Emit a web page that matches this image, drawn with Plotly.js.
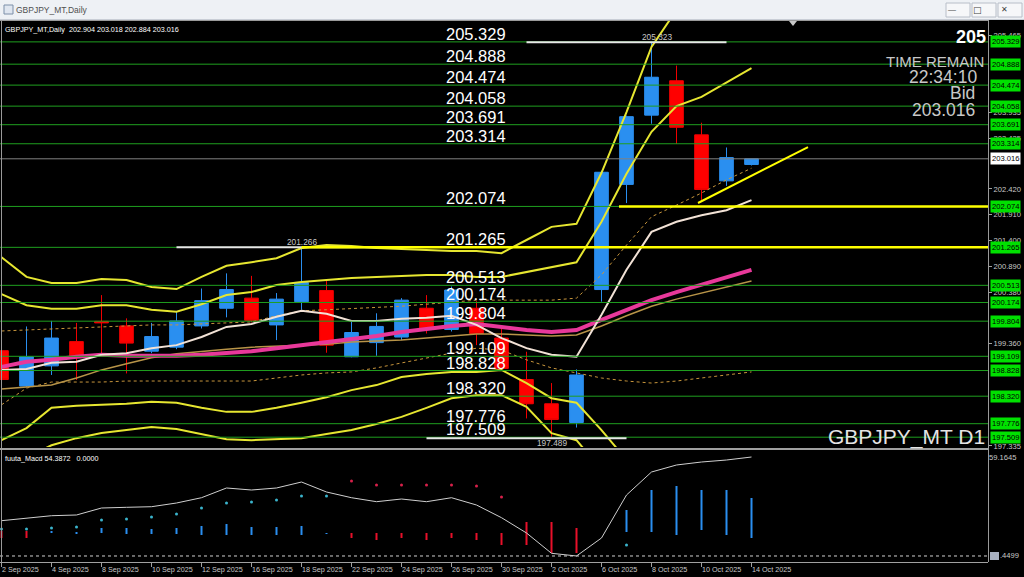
<!DOCTYPE html>
<html><head><meta charset="utf-8">
<script src="https://cdn.plot.ly/plotly-3.0.1.min.js"></script>
<style>html,body{margin:0;padding:0;background:#000;overflow:hidden}#chart{width:1024px;height:577px}</style>
</head><body><div id="chart"></div>
<script>
// ---------- data ----------
const days = ['2025-09-02','2025-09-03','2025-09-04','2025-09-05','2025-09-08','2025-09-09','2025-09-10','2025-09-11','2025-09-12','2025-09-15','2025-09-16','2025-09-17','2025-09-18','2025-09-19','2025-09-22','2025-09-23','2025-09-24','2025-09-25','2025-09-26','2025-09-29','2025-09-30','2025-10-01','2025-10-02','2025-10-03','2025-10-06','2025-10-07','2025-10-08','2025-10-09','2025-10-10','2025-10-13','2025-10-14'];
const openP  = [199.22,198.52,198.92,199.40,199.80,199.71,199.21,199.29,199.71,200.06,200.26,199.73,200.19,200.41,199.10,199.38,199.49,200.06,199.64,200.06,199.47,198.65,198.17,197.80,200.43,202.51,203.88,204.56,203.49,202.58,202.904];
const highP  = [199.35,199.70,199.81,199.77,200.32,199.86,199.77,199.99,200.45,200.75,200.70,200.36,201.266,200.62,199.79,199.96,200.26,200.32,200.49,200.20,199.66,199.20,198.58,198.85,202.78,203.87,205.323,204.86,203.73,203.24,203.018];
const lowP   = [198.55,198.50,198.74,198.64,199.17,198.77,199.17,199.25,199.66,199.88,199.78,199.43,200.03,199.18,199.09,199.12,199.43,199.56,199.60,199.33,198.85,197.88,197.489,197.70,200.19,202.14,203.71,203.31,202.20,202.48,202.884];
const closeP = [198.65,199.10,199.47,199.12,199.77,199.37,199.50,199.81,200.21,200.43,199.82,200.24,200.57,199.33,199.58,199.70,200.22,199.66,200.42,199.56,198.87,198.17,197.86,198.74,202.75,203.85,204.63,203.64,202.41,203.04,203.016];

const bandUp2 = [201.07,200.68,200.56,200.56,200.64,200.62,200.48,200.44,200.68,200.90,200.97,201.05,201.25,201.31,201.29,201.25,201.23,201.21,201.19,201.19,201.15,201.41,201.67,201.73,202.74,203.94,205.23,205.96];
const bandUp1 = [200.34,200.12,200.05,200.05,200.12,200.12,200.03,199.99,200.14,200.32,200.38,200.52,200.58,200.62,200.66,200.68,200.70,200.72,200.72,200.68,200.68,200.78,200.88,200.97,201.77,202.72,203.55,204.06,204.24,204.52,204.81];
const bandDn1 = [197.45,197.69,198.09,198.13,198.15,198.17,198.21,198.19,198.09,198.01,198.01,198.09,198.19,198.30,198.44,198.54,198.70,198.76,198.80,198.80,198.84,198.58,198.28,198.19,197.65,197.06];
const bandDn2 = [196.86,197.10,197.35,197.49,197.59,197.65,197.71,197.67,197.57,197.47,197.45,197.47,197.49,197.57,197.65,197.77,197.91,198.09,198.28,198.34,198.34,198.11,197.59,197.45,196.86];
const maWhite = [198.84,198.86,198.98,199.00,199.14,199.17,199.27,199.33,199.49,199.69,199.75,199.89,200.01,199.95,199.81,199.81,199.85,199.87,199.91,199.73,199.47,199.27,199.14,199.10,199.93,200.82,201.57,201.77,201.90,202.00,202.20];
const maPink  = [198.90,199.00,199.04,199.10,199.14,199.12,199.12,199.12,199.14,199.17,199.21,199.27,199.33,199.39,199.45,199.51,199.59,199.65,199.71,199.75,199.69,199.63,199.59,199.63,199.83,200.03,200.22,200.38,200.52,200.68,200.82];
const maTan   = [198.46,198.50,198.54,198.68,198.84,198.96,199.08,199.16,199.21,199.25,199.29,199.31,199.33,199.35,199.39,199.41,199.43,199.47,199.51,199.55,199.55,199.53,199.51,199.53,199.71,199.91,200.10,200.24,200.36,200.48,200.60];
const dotUpper = [199.61,199.63,199.65,199.67,199.69,199.71,199.73,199.73,199.75,199.77,199.79,199.91,200.01,200.03,200.05,200.07,200.10,200.14,200.18,200.22,200.22,200.22,200.22,200.26,200.72,201.31,201.87,202.10,202.34,202.60,202.83];
const dotLower = [198.15,198.48,198.60,198.60,198.60,198.62,198.62,198.62,198.62,198.62,198.62,198.68,198.74,198.78,198.80,198.88,198.98,199.08,199.17,199.27,199.23,199.04,198.88,198.78,198.68,198.62,198.58,198.62,198.68,198.74,198.80];

const levels = [205.329,204.888,204.474,204.058,203.691,203.314,202.074,201.265,200.513,200.174,199.804,199.109,198.828,198.320,197.776,197.509];
const priceTicks = [205.465,203.935,203.425,202.420,201.910,201.400,200.890,200.380,199.360,197.335];
const lastPrice = 203.016;
const periodHigh = 205.323, periodLow = 197.489, swingHigh = 201.266;

const macdLine = [20.80,22.13,23.81,24.24,28.45,28.87,29.23,31.46,34.65,40.50,39.29,40.50,44.11,38.09,34.65,32.25,33.87,32.25,34.65,30.26,22.61,13.40,1.17,-0.45,10.39,36.28,50.13,54.35,56.15,57.36,59.16];
const histUpHi = [null,null,14.60,14.00,16.41,16.41,15.80,16.41,17.61,18.81,17.01,17.01,17.61,13.40,null,null,null,null,null,null,null,null,null,null,null,27.25,39.29,41.70,39.29,39.29,34.47];
const histUpLo = [null,null,13.40,12.79,13.40,12.79,12.79,12.79,12.19,12.19,12.19,12.19,12.19,12.79,null,null,null,null,null,null,null,null,null,null,null,14.00,14.00,12.19,15.20,12.19,10.39];
const histDnHi = [14.60,14.60,null,null,null,null,null,null,null,null,null,null,null,null,13.40,13.40,13.40,13.40,13.40,13.40,13.40,20.02,20.02,16.41,null,null,null,null,null,null,null];
const histDnLo = [10.39,10.39,null,null,null,null,null,null,null,null,null,null,null,null,10.39,9.18,10.39,9.18,10.39,9.18,6.17,6.17,1.35,1.35,null,null,null,null,null,null,null];
const dotUp = [15.80,15.80,16.41,17.01,21.23,21.83,23.03,24.84,28.45,31.46,32.07,33.27,35.68,35.68,null,null,null,null,null,null,null,null,null,null,null,6.17,null,null,null,null,null];
const dotDn = [null,null,null,null,null,null,null,null,null,null,null,null,null,null,44.71,42.30,42.30,42.30,42.30,41.70,35.08,null,null,null,null,null,null,null,null,null,null];
const macdMax = 59.1645, macdMin = -0.4499;

const tickDays = ['2025-09-02','2025-09-04','2025-09-08','2025-09-10','2025-09-12','2025-09-16','2025-09-18','2025-09-22','2025-09-24','2025-09-26','2025-09-30','2025-10-02','2025-10-06','2025-10-08','2025-10-10','2025-10-14'];
const tickLabels = ['2 Sep 2025','4 Sep 2025','8 Sep 2025','10 Sep 2025','12 Sep 2025','16 Sep 2025','18 Sep 2025','22 Sep 2025','24 Sep 2025','26 Sep 2025','30 Sep 2025','2 Oct 2025','6 Oct 2025','8 Oct 2025','10 Oct 2025','14 Oct 2025'];

// ---------- helpers ----------
const W = 1024, H = 577;
const px = x => x / W, py = y => 1 - y / H;
const FONT = 'Liberation Sans, Arial, sans-serif';
const sub = a => days.slice(0, a.length);

// ---------- traces ----------
const traces = [];
traces.push({type:'candlestick', x: days, open: openP, high: highP, low: lowP, close: closeP,
  xaxis:'x', yaxis:'y', hoverinfo:'skip', showlegend:false,
  increasing:{line:{color:'#2a8ff0', width:1}, fillcolor:'#2a8ff0'},
  decreasing:{line:{color:'#f00000', width:1}, fillcolor:'#ff0000'}});
const line = (y, color, width, dash) => ({type:'scatter', mode:'lines', x: sub(y), y: y, xaxis:'x', yaxis:'y',
  line:{color:color, width:width, dash:dash||'solid'}, hoverinfo:'skip', showlegend:false});
traces.push(line(dotUpper, '#c8963c', 1, 'dot'));
traces.push(line(dotLower, '#c8963c', 1, 'dot'));
traces.push(line(maTan, '#b89448', 1.5));
traces.push(line(bandUp2, '#e6e630', 2));
traces.push(line(bandUp1, '#e6e630', 2));
traces.push(line(bandDn1, '#e6e630', 2));
traces.push(line(bandDn2, '#e6e630', 2));
traces.push(line(maPink, '#e8389a', 4));
traces.push(line(maWhite, '#f2e2d6', 2));

// MACD panel
const diff = (hi, lo) => hi.map((v, i) => v === null ? null : +(v - lo[i]).toFixed(3));
traces.push({type:'bar', x: days, y: diff(histUpHi, histUpLo), base: histUpLo, width: 0.08, xaxis:'x2', yaxis:'y2',
  marker:{color:'#2a8ff0'}, hoverinfo:'skip', showlegend:false});
traces.push({type:'bar', x: days, y: diff(histDnHi, histDnLo), base: histDnLo, width: 0.08, xaxis:'x2', yaxis:'y2',
  marker:{color:'#e8102a'}, hoverinfo:'skip', showlegend:false});
traces.push({type:'scatter', mode:'markers', x: days, y: dotUp, xaxis:'x2', yaxis:'y2',
  marker:{color:'#3ab4cc', size:3}, hoverinfo:'skip', showlegend:false});
traces.push({type:'scatter', mode:'markers', x: days, y: dotDn, xaxis:'x2', yaxis:'y2',
  marker:{color:'#d8204a', size:3}, hoverinfo:'skip', showlegend:false});
traces.push({type:'scatter', mode:'lines', x: days, y: macdLine, xaxis:'x2', yaxis:'y2',
  line:{color:'#cfcfcf', width:1}, hoverinfo:'skip', showlegend:false});

// ---------- shapes ----------
const shapes = [];
levels.forEach(lv => shapes.push({type:'line', xref:'x domain', x0:0, x1:1, yref:'y', y0:lv, y1:lv, line:{color:'#1f9f1f', width:1}}));
shapes.push({type:'line', xref:'x domain', x0:0, x1:1, yref:'y', y0:lastPrice, y1:lastPrice, line:{color:'#808080', width:1}});
shapes.push({type:'line', xref:'x', x0:21, x1:29, yref:'y', y0:periodHigh, y1:periodHigh, line:{color:'#e6e6e6', width:2}});
shapes.push({type:'line', xref:'x', x0:7, x1:15, yref:'y', y0:swingHigh, y1:swingHigh, line:{color:'#e6e6e6', width:2}});
shapes.push({type:'line', xref:'x', x0:17, x1:25, yref:'y', y0:periodLow, y1:periodLow, line:{color:'#e6e6e6', width:2}});
shapes.push({type:'line', xref:'x', x0:12, x1:39.46, yref:'y', y0:levels[7], y1:levels[7], line:{color:'#ffff00', width:2.5}});
shapes.push({type:'line', xref:'x', x0:24.7, x1:39.46, yref:'y', y0:levels[6], y1:levels[6], line:{color:'#ffff00', width:2.5}});
shapes.push({type:'line', xref:'x', x0:27.86, x1:32.26, yref:'y', y0:202.142, y1:203.249, line:{color:'#ffff00', width:2}});
shapes.push({type:'line', xref:'x2 domain', x0:0, x1:1, yref:'y2', y0:macdMin, y1:macdMin, line:{color:'#d0d0d0', width:1, dash:'dot'}});
shapes.push({type:'rect', xref:'paper', yref:'paper', x0:0, x1:1, y0:py(20), y1:1, fillcolor:'#eef1f5', line:{width:0}});
shapes.push({type:'line', xref:'paper', yref:'paper', x0:0, x1:1, y0:py(19.5), y1:py(19.5), line:{color:'#c9ced6', width:1}});
shapes.push({type:'rect', xref:'paper', yref:'paper', x0:px(4), x1:px(13), y0:py(14), y1:py(5), fillcolor:'#dfe6f0', line:{color:'#7d8fa8', width:1}});
[[946,970],[972,996],[998,1022]].forEach(b => shapes.push({type:'rect', xref:'paper', yref:'paper', x0:px(b[0]), x1:px(b[1]), y0:py(17), y1:py(3), fillcolor:'#f6f7f9', line:{color:'#b8bec8', width:1}}));
shapes.push({type:'line', xref:'paper', yref:'paper', x0:px(1.5), x1:px(1.5), y0:py(562), y1:py(20), line:{color:'#9a9a9a', width:1}});
shapes.push({type:'line', xref:'paper', yref:'paper', x0:0, x1:px(988.5), y0:py(20.5), y1:py(20.5), line:{color:'#9a9a9a', width:1}});
shapes.push({type:'line', xref:'paper', yref:'paper', x0:px(988.5), x1:px(988.5), y0:py(562), y1:py(20), line:{color:'#9a9a9a', width:1}});
shapes.push({type:'line', xref:'paper', yref:'paper', x0:0, x1:px(988.5), y0:py(449), y1:py(449), line:{color:'#a0a0a0', width:2}});
shapes.push({type:'path', xref:'paper', yref:'paper', path:`M ${px(789)} ${py(21)} L ${px(797)} ${py(21)} L ${px(793)} ${py(26)} Z`, fillcolor:'#c8c8c8', line:{width:0}});
shapes.push({type:'rect', xref:'paper', yref:'paper', x0:px(990), x1:px(999), y0:py(560), y1:py(552), fillcolor:'#a8b0c0', line:{width:0}});

// ---------- annotations ----------
const ann = [];
const A = o => ann.push(Object.assign({showarrow:false}, o));
levels.forEach(lv => {
  A({xref:'paper', x:px(444), xanchor:'left', yref:'y', y:lv, yanchor:'bottom', yshift:-3,
     text: lv.toFixed(3), font:{family:FONT, size:16.5, color:'#ffffff'}});
  A({xref:'paper', x:px(990), xanchor:'left', yref:'y', y:lv, yanchor:'middle',
     text: lv.toFixed(3), font:{family:FONT, size:7.6, color:'#000000'}, bgcolor:'#00e000', borderpad:1});
});
A({xref:'paper', x:px(990), xanchor:'left', yref:'y', y:lastPrice, yanchor:'middle',
   text: lastPrice.toFixed(3), font:{family:FONT, size:7.6, color:'#000000'}, bgcolor:'#ffffff', borderpad:1});
A({xref:'x', x:26.2, yref:'y', y:periodHigh, yanchor:'bottom', yshift:-2, text: periodHigh.toFixed(3), font:{family:FONT, size:8.3, color:'#c8c8c8'}});
A({xref:'x', x:12, yref:'y', y:swingHigh, yanchor:'bottom', yshift:-2, text: swingHigh.toFixed(3), font:{family:FONT, size:8.3, color:'#c8c8c8'}});
A({xref:'x', x:22, yref:'y', y:periodLow, yanchor:'top', yshift:2, text: periodLow.toFixed(3), font:{family:FONT, size:8.3, color:'#c8c8c8'}});
A({xref:'paper', x:px(988), xanchor:'right', yref:'paper', y:py(37), yanchor:'middle', text:'<b>205</b>', font:{family:FONT, size:18, color:'#ffffff'}});
A({xref:'paper', x:px(986), xanchor:'right', yref:'paper', y:py(61), yanchor:'middle', text:'TIME REMAIN', font:{family:FONT, size:15, color:'#c8c8c8'}});
A({xref:'paper', x:px(979), xanchor:'right', yref:'paper', y:py(77), yanchor:'middle', text:'22:34:10', font:{family:FONT, size:17.5, color:'#c8c8c8'}});
A({xref:'paper', x:px(977), xanchor:'right', yref:'paper', y:py(93), yanchor:'middle', text:'Bid', font:{family:FONT, size:17.5, color:'#c8c8c8'}});
A({xref:'paper', x:px(977), xanchor:'right', yref:'paper', y:py(110), yanchor:'middle', text: lastPrice.toFixed(3), font:{family:FONT, size:17.5, color:'#c8c8c8'}});
A({xref:'paper', x:px(987), xanchor:'right', yref:'paper', y:py(437), yanchor:'middle', text:'GBPJPY_MT D1', font:{family:FONT, size:21, color:'#e4e4e4'}});
A({xref:'paper', x:px(3), xanchor:'left', yref:'paper', y:py(29), yanchor:'middle',
   text:'GBPJPY_MT,Daily  ' + [openP[30], highP[30], lowP[30], closeP[30]].map(v => v.toFixed(3)).join(' '),
   font:{family:FONT, size:7.2, color:'#ffffff'}});
A({xref:'paper', x:px(3), xanchor:'left', yref:'paper', y:py(458), yanchor:'middle',
   text:'fuuta_Macd 54.3872   0.0000', font:{family:FONT, size:7.2, color:'#ffffff'}});
A({xref:'paper', x:px(998), xanchor:'left', yref:'y2', y:macdMin, yanchor:'middle', text:'.4499', font:{family:FONT, size:7.6, color:'#c8c8c8'}});
A({xref:'paper', x:px(14), xanchor:'left', yref:'paper', y:py(10), yanchor:'middle', text:'GBPJPY_MT,Daily', font:{family:FONT, size:8.5, color:'#505050'}});
A({xref:'paper', x:px(958), yref:'paper', y:py(10), yanchor:'middle', text:'&#8212;', font:{family:FONT, size:8, color:'#404040'}});
A({xref:'paper', x:px(984), yref:'paper', y:py(10), yanchor:'middle', text:'&#9633;', font:{family:'DejaVu Sans', size:9, color:'#404040'}});
A({xref:'paper', x:px(1010), yref:'paper', y:py(10), yanchor:'middle', text:'&#10005;', font:{family:'DejaVu Sans', size:8, color:'#404040'}});
tickDays.forEach((d, k) => A({xref:'x2', x:d, xanchor:'left', xshift:-2, yref:'paper', y:py(569), yanchor:'middle',
   text: tickLabels[k], font:{family:FONT, size:7.2, color:'#c8c8c8'}}));

// ---------- layout ----------
const xr = [-0.06, 39.46];
const layout = {
  width: W, height: H, margin:{l:0, r:0, t:0, b:0, pad:0},
  paper_bgcolor:'#000000', plot_bgcolor:'#000000', showlegend:false,
  boxgap: 0.22, barmode:'overlay', dragmode:false, hovermode:false,
  xaxis:{type:'category', categoryorder:'array', categoryarray: days, domain:[0, 988/W], range: xr, anchor:'y',
    showticklabels:false, ticks:'', showgrid:false, zeroline:false, showline:false, rangeslider:{visible:false}, fixedrange:true},
  yaxis:{domain:[py(447), py(20)], range:[197.315, 205.762], side:'right', anchor:'x', automargin:false,
    tickvals: priceTicks, ticktext: priceTicks.map(v => v.toFixed(3)), ticks:'outside', ticklen:3, tickcolor:'#a0a0a0',
    tickfont:{family:FONT, size:7.6, color:'#c8c8c8'}, showgrid:false, zeroline:false, showline:false, fixedrange:true},
  xaxis2:{type:'category', categoryorder:'array', categoryarray: days, domain:[0, 988/W], range: xr, anchor:'y2',
    tickvals: tickDays, ticktext: tickDays.map(() => ''), ticks:'outside', ticklen:4, tickcolor:'#a0a0a0',
    showline:true, linecolor:'#a0a0a0', linewidth:1, showgrid:false, zeroline:false, fixedrange:true},
  yaxis2:{domain:[py(562), py(450)], range:[-4.07, 63.38], side:'right', anchor:'x2', automargin:false,
    tickvals:[macdMax], ticktext:[macdMax.toFixed(4)], ticks:'', tickfont:{family:FONT, size:7.6, color:'#c8c8c8'},
    showgrid:false, zeroline:false, showline:false, fixedrange:true},
  shapes: shapes, annotations: ann
};
Plotly.newPlot('chart', traces, layout, {staticPlot:true, displayModeBar:false});
</script>
</body></html>
